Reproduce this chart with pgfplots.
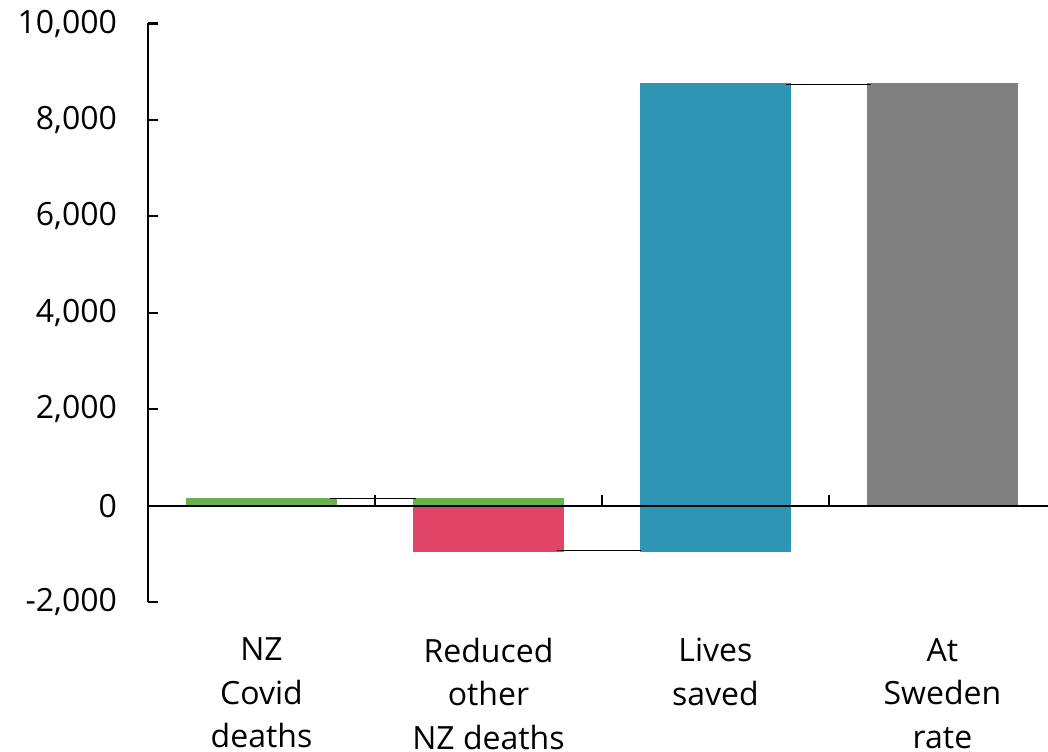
\documentclass[border=0pt]{standalone}
\usepackage{pgfplots}
\pgfplotsset{compat=1.18}
\usepackage{fontspec}
\setmainfont{Open Sans}
\definecolor{nzgreen}{RGB}{106,176,76}
\definecolor{nzred}{RGB}{224,69,104}
\definecolor{nzteal}{RGB}{46,150,180}
\definecolor{nzgray}{RGB}{128,128,128}
\tikzset{wbar/.style={ybar, bar width=0.665, bar shift=0pt, draw=none}}

\begin{document}
\begin{tikzpicture}
\begin{axis}[
  scale only axis, width=450pt, height=289.25pt,
  xmin=-0.5, xmax=3.465, ymin=-2000, ymax=10000,
  axis y line*=left, axis x line*=bottom,
  x axis line style={draw=none},
  y axis line style={line width=1pt},
  ytick={-2000,0,...,10000}, scaled y ticks=false,
  y tick style={line width=1pt, black}, major tick length=5pt, tick align=inside,
  xtick={0,1,2,3}, x tick style={draw=none},
  xticklabels={NZ\\Covid\\deaths, Reduced\\other\\NZ deaths, Lives\\saved, At\\Sweden\\rate},
  xticklabel style={align=center, yshift=-14.5pt, font=\fontsize{16}{21.75}\selectfont},
  yticklabel style={xshift=-12pt},
  font=\fontsize{16}{21.5}\selectfont,
  /pgf/number format/assume math mode=true,
  clip=false,
]
% bars, all from zero
\addplot[wbar, fill=nzgreen] coordinates {(0,150)};
\addplot[wbar, fill=nzgreen] coordinates {(1,150)};
\addplot[wbar, fill=nzred] coordinates {(1,-970)};
\addplot[wbar, fill=nzteal] coordinates {(2,8770)};
\addplot[wbar, fill=nzteal] coordinates {(2,-970)};
\addplot[wbar, fill=nzgray] coordinates {(3,8770)};
% connectors
\addplot[black, line width=0.6pt] coordinates {(0.30,150) (0.68,150)};
\addplot[black, line width=0.6pt] coordinates {(1.30,-930) (1.67,-930)};
\addplot[black, line width=0.6pt] coordinates {(2.31,8740) (2.685,8740)};
% zero line and category ticks
\addplot[black, line width=1pt] coordinates {(-0.5,0) (3.465,0)};
\addplot[black, line width=1pt] coordinates {(0.5,0) (0.5,230)};
\addplot[black, line width=1pt] coordinates {(1.5,0) (1.5,230)};
\addplot[black, line width=1pt] coordinates {(2.5,0) (2.5,230)};
\end{axis}
\pgfresetboundingbox
\path (current axis.south west) +(-74pt,-74.5pt) coordinate (bl);
\path (current axis.north east) +(0pt,11.75pt) coordinate (tr);
\useasboundingbox (bl) rectangle (tr);
\end{tikzpicture}
\end{document}
